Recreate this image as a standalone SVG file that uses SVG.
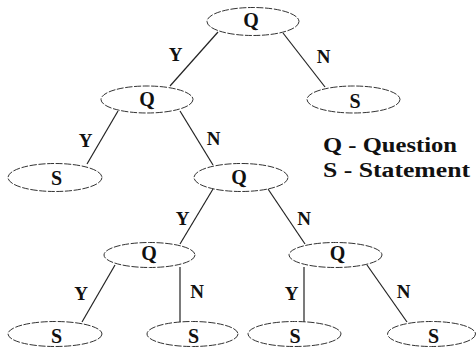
<svg xmlns="http://www.w3.org/2000/svg" width="476" height="349" viewBox="0 0 476 349">
<style>
.node ellipse{fill:#fff;stroke:#333;stroke-width:1;stroke-dasharray:7 1.6}
.node text{font-size:20px;text-anchor:middle}
.lbl{font-size:19px;text-anchor:middle}
.legend{font-size:20px}
#connectors line{stroke:#222;stroke-width:1.2}
</style>
<rect width="476" height="349" fill="#fff"/>
<g id="connectors">
<line x1="218" y1="32" x2="170" y2="86"/>
<line x1="283" y1="33" x2="325" y2="87"/>
<line x1="118" y1="111" x2="87" y2="164"/>
<line x1="180" y1="111" x2="213" y2="165"/>
<line x1="213" y1="189" x2="180" y2="244"/>
<line x1="268" y1="189" x2="305" y2="244"/>
<line x1="115" y1="265" x2="82" y2="322"/>
<line x1="180" y1="267" x2="180" y2="322"/>
<line x1="304" y1="267" x2="304" y2="322"/>
<line x1="367" y1="265" x2="407" y2="322"/>
</g>
<g font-family="Liberation Serif, Times New Roman, DejaVu Serif, serif" font-weight="bold" fill="#111">
<g id="labels">
<text class="lbl" x="175.5" y="61">Y</text>
<text class="lbl" x="323.5" y="63">N</text>
<text class="lbl" x="85.5" y="147">Y</text>
<text class="lbl" x="213.5" y="145">N</text>
<text class="lbl" x="182.5" y="225">Y</text>
<text class="lbl" x="304" y="225">N</text>
<text class="lbl" x="81" y="300">Y</text>
<text class="lbl" x="197" y="298">N</text>
<text class="lbl" x="291.5" y="300">Y</text>
<text class="lbl" x="403.5" y="298">N</text>
</g>
<g id="q1" class="node"><ellipse cx="253" cy="21.5" rx="46" ry="14"/><text x="251" y="26.5">Q</text></g>
<g id="q2" class="node"><ellipse cx="147" cy="99.5" rx="46" ry="13.5"/><text x="147" y="106">Q</text></g>
<g id="s1" class="node"><ellipse cx="353.5" cy="99.5" rx="46.5" ry="13.5"/><text x="355" y="108">S</text></g>
<g id="s2" class="node"><ellipse cx="55" cy="177.5" rx="47" ry="14"/><text x="56.5" y="185">S</text></g>
<g id="q3" class="node"><ellipse cx="241" cy="177.5" rx="47" ry="14"/><text x="239" y="184">Q</text></g>
<g id="q4" class="node"><ellipse cx="149.5" cy="255" rx="45.5" ry="12.5"/><text x="149" y="259.5">Q</text></g>
<g id="q5" class="node"><ellipse cx="335.5" cy="255" rx="46.5" ry="12.5"/><text x="337.5" y="259.5">Q</text></g>
<g id="s3" class="node"><ellipse cx="55" cy="334" rx="47" ry="12.5"/><text x="56.5" y="343">S</text></g>
<g id="s4" class="node"><ellipse cx="192.5" cy="334" rx="45.5" ry="12.5"/><text x="193.5" y="343">S</text></g>
<g id="s5" class="node"><ellipse cx="294.5" cy="334" rx="46.5" ry="12.5"/><text x="295" y="343">S</text></g>
<g id="s6" class="node"><ellipse cx="431.5" cy="334" rx="44" ry="12.5"/><text x="433.5" y="343">S</text></g>
<g id="legend">
<text class="legend" x="323" y="152" textLength="134" lengthAdjust="spacingAndGlyphs">Q - Question</text>
<text class="legend" x="323" y="177" textLength="147" lengthAdjust="spacingAndGlyphs">S - Statement</text>
</g>
</g>
</svg>
